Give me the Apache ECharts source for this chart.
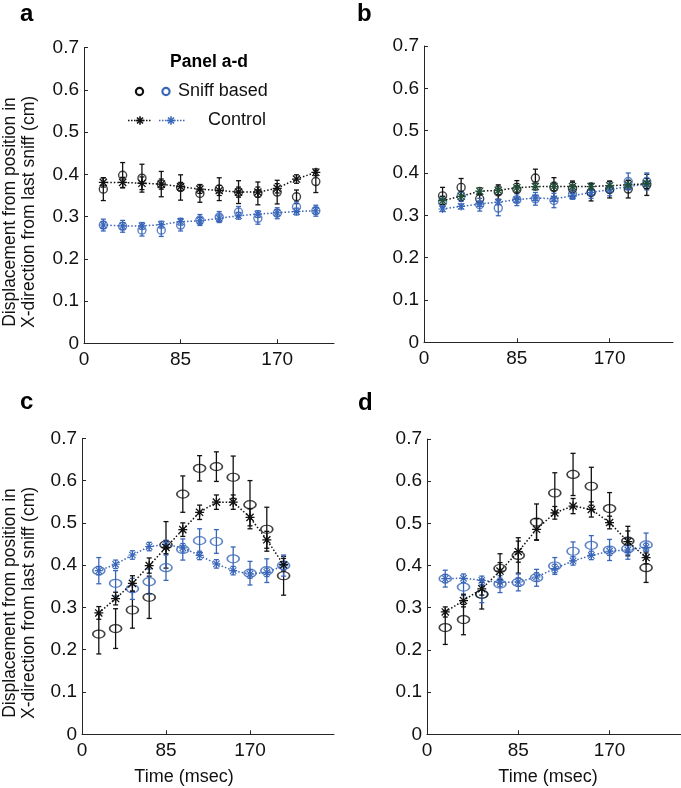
<!DOCTYPE html>
<html>
<head>
<meta charset="utf-8">
<script src="https://cdn.jsdelivr.net/npm/echarts@6/dist/echarts.min.js"></script>
<style>
html,body{margin:0;padding:0;background:#fff;}
#chart{width:681px;height:788px;}
</style>
</head>
<body>
<div id="chart"></div>
<script>
// ---- data ----
const times = [17, 34, 51, 68, 85, 102, 119, 136, 153, 170, 187, 204];
const xTickLabels = [0, 85, 170];
const yTickLabels = [0, 0.1, 0.2, 0.3, 0.4, 0.5, 0.6, 0.7];

// panel a
const aSniffBlack    = [0.365, 0.398, 0.391, 0.377, 0.369, 0.355, 0.365, 0.358, 0.355, 0.358, 0.347, 0.383];
const aSniffBlackErr = [0.027, 0.030, 0.033, 0.030, 0.030, 0.021, 0.027, 0.027, 0.027, 0.028, 0.016, 0.026];
const aSniffBlue     = [0.280, 0.277, 0.268, 0.268, 0.280, 0.292, 0.299, 0.311, 0.296, 0.308, 0.323, 0.314];
const aSniffBlueErr  = [0.014, 0.014, 0.014, 0.015, 0.014, 0.013, 0.013, 0.013, 0.014, 0.013, 0.013, 0.013];
const aCtrlBlack     = [0.381, 0.381, 0.379, 0.377, 0.371, 0.365, 0.362, 0.358, 0.358, 0.367, 0.389, 0.405];
const aCtrlBlackErr  = [0.011, 0.012, 0.015, 0.012, 0.010, 0.010, 0.012, 0.012, 0.012, 0.011, 0.010, 0.008];
const aCtrlBlue      = [0.280, 0.278, 0.278, 0.281, 0.288, 0.290, 0.296, 0.302, 0.306, 0.309, 0.312, 0.314];
const aCtrlBlueErr   = [0.008, 0.008, 0.008, 0.008, 0.008, 0.008, 0.008, 0.008, 0.008, 0.008, 0.008, 0.008];

// panel b
const bSniffBlack    = [0.346, 0.366, 0.339, 0.355, 0.361, 0.388, 0.366, 0.363, 0.354, 0.361, 0.362, 0.372];
const bSniffBlackErr = [0.020, 0.021, 0.012, 0.017, 0.021, 0.021, 0.023, 0.018, 0.020, 0.020, 0.021, 0.025];
const bSniffBlue     = [0.331, 0.345, 0.325, 0.317, 0.337, 0.339, 0.335, 0.350, 0.354, 0.361, 0.380, 0.380];
const bSniffBlueErr  = [0.013, 0.012, 0.015, 0.018, 0.014, 0.015, 0.017, 0.012, 0.014, 0.015, 0.020, 0.020];
const bCtrlBlack     = [0.335, 0.345, 0.357, 0.359, 0.365, 0.368, 0.368, 0.368, 0.368, 0.370, 0.372, 0.375];
const bCtrlBlackErr  = [0.010, 0.010, 0.008, 0.010, 0.010, 0.008, 0.010, 0.010, 0.008, 0.010, 0.010, 0.012];
const bCtrlBlue      = [0.315, 0.321, 0.327, 0.331, 0.337, 0.341, 0.339, 0.346, 0.354, 0.361, 0.368, 0.374];
const bCtrlBlueErr   = [0.006, 0.006, 0.006, 0.006, 0.006, 0.006, 0.006, 0.006, 0.006, 0.006, 0.006, 0.006];

// panel c
const cSniffBlack    = [0.237, 0.250, 0.294, 0.324, 0.448, 0.568, 0.629, 0.633, 0.608, 0.543, 0.485, 0.375];
const cSniffBlackErr = [0.047, 0.047, 0.043, 0.050, 0.055, 0.043, 0.030, 0.035, 0.050, 0.057, 0.052, 0.046];
const cSniffBlue     = [0.387, 0.357, 0.344, 0.361, 0.394, 0.437, 0.458, 0.456, 0.415, 0.381, 0.387, 0.399];
const cSniffBlueErr  = [0.031, 0.030, 0.025, 0.030, 0.030, 0.025, 0.028, 0.028, 0.028, 0.028, 0.028, 0.025];
const cCtrlBlack     = [0.287, 0.321, 0.357, 0.399, 0.442, 0.484, 0.525, 0.549, 0.549, 0.513, 0.460, 0.401];
const cCtrlBlackErr  = [0.015, 0.015, 0.018, 0.018, 0.015, 0.016, 0.017, 0.017, 0.017, 0.020, 0.020, 0.015];
const cCtrlBlue      = [0.387, 0.402, 0.424, 0.444, 0.449, 0.441, 0.423, 0.403, 0.387, 0.379, 0.383, 0.399];
const cCtrlBlueErr   = [0.010, 0.010, 0.010, 0.010, 0.010, 0.010, 0.010, 0.010, 0.010, 0.010, 0.010, 0.010];

// panel d
const dSniffBlack    = [0.253, 0.272, 0.332, 0.393, 0.424, 0.503, 0.572, 0.616, 0.588, 0.535, 0.458, 0.395];
const dSniffBlackErr = [0.040, 0.036, 0.035, 0.035, 0.042, 0.043, 0.048, 0.050, 0.045, 0.038, 0.035, 0.035];
const dSniffBlue     = [0.369, 0.349, 0.332, 0.356, 0.360, 0.371, 0.399, 0.434, 0.448, 0.437, 0.440, 0.449];
const dSniffBlueErr  = [0.020, 0.020, 0.020, 0.020, 0.020, 0.020, 0.020, 0.022, 0.023, 0.025, 0.025, 0.028];
const dCtrlBlack     = [0.290, 0.317, 0.345, 0.387, 0.433, 0.486, 0.525, 0.541, 0.533, 0.502, 0.457, 0.419];
const dCtrlBlackErr  = [0.012, 0.015, 0.015, 0.020, 0.025, 0.025, 0.015, 0.018, 0.018, 0.015, 0.025, 0.015];
const dCtrlBlue      = [0.369, 0.370, 0.365, 0.360, 0.361, 0.373, 0.393, 0.411, 0.424, 0.434, 0.437, 0.443];
const dCtrlBlueErr   = [0.010, 0.010, 0.010, 0.010, 0.010, 0.010, 0.010, 0.010, 0.010, 0.010, 0.010, 0.010];

const legendTitle = 'Panel a-d';
const legendSniff = 'Sniff based';
const legendCtrl = 'Control';
const yTitle = 'Displacement from position in\nX-direction from last sniff (cm)';
const xTitle = 'Time (msec)';
const panelLetters = ['a', 'b', 'c', 'd'];

// ---- styling ----
const FONT = 'Liberation Sans, Arial, sans-serif';
const BLACK = '#111111';
const BLUE = '#3a66b9';
const STAR = 'path://M4.3,0L5.7,0L5.7,10L4.3,10Z M0,4.3L10,4.3L10,5.7L0,5.7Z M1.5,0.5L9.5,8.5L8.5,9.5L0.5,1.5Z M9.5,1.5L1.5,9.5L0.5,8.5L8.5,0.5Z';

const panels = [
  {grid:{left:84, top:47.7, width:250, height:295.6}, xmax:220, circ:[8,8],
   sb:aSniffBlack, sbe:aSniffBlackErr, su:aSniffBlue, sue:aSniffBlueErr,
   cb:aCtrlBlack, cbe:aCtrlBlackErr, cu:aCtrlBlue, cue:aCtrlBlueErr, starBlack:BLACK},
  {grid:{left:424, top:46, width:249, height:296.3}, xmax:228, circ:[8,8],
   sb:bSniffBlack, sbe:bSniffBlackErr, su:bSniffBlue, sue:bSniffBlueErr,
   cb:bCtrlBlack, cbe:bCtrlBlackErr, cu:bCtrlBlue, cue:bCtrlBlueErr, starBlack:'#1f4f36'},
  {grid:{left:82, top:438.3, width:252, height:296}, xmax:255, circ:[12,8],
   sb:cSniffBlack, sbe:cSniffBlackErr, su:cSniffBlue, sue:cSniffBlueErr,
   cb:cCtrlBlack, cbe:cCtrlBlackErr, cu:cCtrlBlue, cue:cCtrlBlueErr, starBlack:BLACK},
  {grid:{left:427, top:439, width:254, height:295.3}, xmax:236.5, circ:[12,8],
   sb:dSniffBlack, sbe:dSniffBlackErr, su:dSniffBlue, sue:dSniffBlueErr,
   cb:dCtrlBlack, cbe:dCtrlBlackErr, cu:dCtrlBlue, cue:dCtrlBlueErr, starBlack:BLACK}
];

function pairs(v){ return times.map((t,i)=>[t, v[i]]); }
function errData(v, e){ return times.map((t,i)=>[t, v[i]-e[i], v[i]+e[i]]); }
function errSeries(idx, v, e, color){
  return {
    type:'custom', xAxisIndex:idx, yAxisIndex:idx, silent:true,
    data: errData(v, e), encode:{x:0, y:[1,2]},
    renderItem: function(params, api){
      const x = api.value(0);
      const p1 = api.coord([x, api.value(1)]);
      const p2 = api.coord([x, api.value(2)]);
      const hw = 2.5;
      const st = {stroke:color, lineWidth:1.3};
      return {type:'group', children:[
        {type:'line', shape:{x1:p1[0], y1:p1[1], x2:p2[0], y2:p2[1]}, style:st},
        {type:'line', shape:{x1:p1[0]-hw, y1:p1[1], x2:p1[0]+hw, y2:p1[1]}, style:st},
        {type:'line', shape:{x1:p2[0]-hw, y1:p2[1], x2:p2[0]+hw, y2:p2[1]}, style:st}
      ]};
    }
  };
}

const grids = [], xAxes = [], yAxes = [], series = [];
panels.forEach((p, i) => {
  grids.push(p.grid);
  xAxes.push({
    type:'value', gridIndex:i, min:0, max:p.xmax,
    axisLine:{show:true, lineStyle:{color:'#262626', width:1}},
    axisTick:{show:true, inside:true, length:4, customValues:xTickLabels, lineStyle:{color:'#262626'}},
    axisLabel:{customValues:xTickLabels, fontSize:19, fontFamily:FONT, color:'#111', margin:7},
    splitLine:{show:false}
  });
  yAxes.push({
    type:'value', gridIndex:i, min:0, max:0.7, interval:0.1,
    axisLine:{show:true, lineStyle:{color:'#262626', width:1}},
    axisTick:{show:true, inside:true, length:4, lineStyle:{color:'#262626'}},
    axisLabel:{fontSize:19, fontFamily:FONT, color:'#111', margin:5,
      formatter: v => (Math.abs(v) < 1e-9 ? '0' : v.toFixed(1))},
    splitLine:{show:false}
  });
  series.push(errSeries(i, p.sb, p.sbe, BLACK));
  series.push(errSeries(i, p.su, p.sue, BLUE));
  series.push(errSeries(i, p.cb, p.cbe, BLACK));
  series.push(errSeries(i, p.cu, p.cue, BLUE));
  series.push({
    type:'line', xAxisIndex:i, yAxisIndex:i, data:pairs(p.cu), symbol:STAR, symbolSize:8,
    itemStyle:{color:BLUE}, lineStyle:{color:BLUE, width:1.5, type:[1.5,2]}, silent:true
  });
  series.push({
    type:'line', xAxisIndex:i, yAxisIndex:i, data:pairs(p.cb), symbol:STAR, symbolSize:9,
    itemStyle:{color:p.starBlack}, lineStyle:{color:BLACK, width:1.5, type:[1.5,2]}, silent:true
  });
  series.push({
    type:'scatter', xAxisIndex:i, yAxisIndex:i, data:pairs(p.su), symbol:'circle', symbolSize:p.circ,
    itemStyle:{color:'rgba(0,0,0,0)', borderColor:BLUE, borderWidth:1.4}, silent:true
  });
  series.push({
    type:'scatter', xAxisIndex:i, yAxisIndex:i, data:pairs(p.sb), symbol:'circle', symbolSize:p.circ,
    itemStyle:{color:'rgba(0,0,0,0)', borderColor:BLACK, borderWidth:1.4}, silent:true
  });
});

function starGraphic(cx, cy, r, color){
  const d = r * 0.7071;
  const st = {stroke:color, lineWidth:1.6};
  return [
    {type:'line', shape:{x1:cx-r, y1:cy, x2:cx+r, y2:cy}, style:st},
    {type:'line', shape:{x1:cx, y1:cy-r, x2:cx, y2:cy+r}, style:st},
    {type:'line', shape:{x1:cx-d, y1:cy-d, x2:cx+d, y2:cy+d}, style:st},
    {type:'line', shape:{x1:cx-d, y1:cy+d, x2:cx+d, y2:cy-d}, style:st}
  ];
}

const letterPos = [[20,14.7],[357,14.7],[20,402.7],[358,403.7]];
const graphics = [];
letterPos.forEach((pp, i) => {
  graphics.push({type:'text', x:pp[0], y:pp[1], style:{text:panelLetters[i], font:'bold 24px '+FONT, fill:'#000', textAlign:'left', textVerticalAlign:'middle'}});
});
[[20,212],[20,603]].forEach(pp => {
  graphics.push({type:'text', x:pp[0], y:pp[1], rotation:Math.PI/2,
    style:{text:yTitle, font:'17.5px '+FONT, fill:'#111', textAlign:'center', textVerticalAlign:'middle', lineHeight:19}});
});
[[184,777],[548,777]].forEach(pp => {
  graphics.push({type:'text', x:pp[0], y:pp[1], style:{text:xTitle, font:'18px '+FONT, fill:'#111', textAlign:'center', textVerticalAlign:'middle'}});
});
// legend
graphics.push({type:'text', x:209, y:62, style:{text:legendTitle, font:'bold 17.5px '+FONT, fill:'#000', textAlign:'center', textVerticalAlign:'middle'}});
graphics.push({type:'circle', shape:{cx:139.5, cy:91.5, r:3.6}, style:{fill:'none', stroke:BLACK, lineWidth:2.2}});
graphics.push({type:'circle', shape:{cx:166, cy:91.5, r:3.6}, style:{fill:'none', stroke:BLUE, lineWidth:2.2}});
graphics.push({type:'text', x:178, y:91.5, style:{text:legendSniff, font:'18px '+FONT, fill:'#111', textAlign:'left', textVerticalAlign:'middle'}});
graphics.push({type:'line', shape:{x1:128, y1:120.5, x2:152, y2:120.5}, style:{stroke:BLACK, lineWidth:1.5, lineDash:[1.5,1.5]}});
graphics.push({type:'line', shape:{x1:159, y1:120.5, x2:185, y2:120.5}, style:{stroke:BLUE, lineWidth:1.5, lineDash:[1.5,1.5]}});
starGraphic(140, 120.5, 4.2, BLACK).forEach(g => graphics.push(g));
starGraphic(171, 120.5, 4.2, BLUE).forEach(g => graphics.push(g));
graphics.push({type:'text', x:208, y:120.5, style:{text:legendCtrl, font:'18px '+FONT, fill:'#111', textAlign:'left', textVerticalAlign:'middle'}});

const chart = echarts.init(document.getElementById('chart'), null, {renderer:'canvas'});
chart.setOption({
  animation:false,
  backgroundColor:'#ffffff',
  grid:grids, xAxis:xAxes, yAxis:yAxes, series:series,
  graphic:{elements:graphics}
});
</script>
</body>
</html>
